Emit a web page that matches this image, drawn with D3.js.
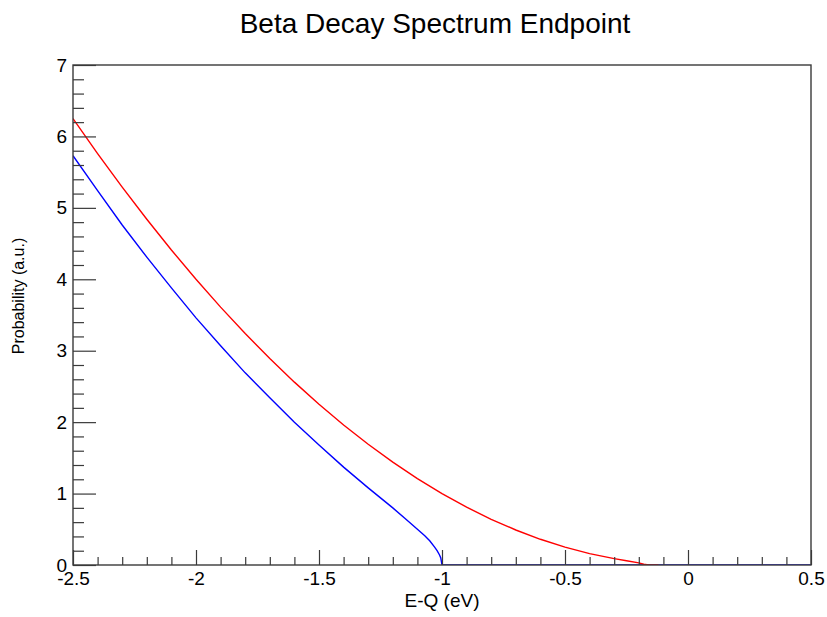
<!DOCTYPE html>
<html>
<head>
<meta charset="utf-8">
<script src="https://cdn.jsdelivr.net/npm/d3@7"></script>
<style>
    body { margin: 0; background: #fff; }
    svg { display: block; font-family: "Liberation Sans", Arial, sans-serif; }
</style>
</head>
<body>
<svg id="chart" width="827" height="617"></svg>
<script>

// E-Q (eV) sample points, red curve (massless neutrino)
var redX = [-2.5, -2.4, -2.3, -2.2, -2.1, -2.0, -1.9, -1.8, -1.7, -1.6, -1.5, -1.4, -1.3,
    -1.2, -1.1, -1.0, -0.9, -0.8, -0.7, -0.6, -0.5, -0.4, -0.3, -0.25, -0.2, -0.18, -0.16, -0.12];
var redY = [6.25, 5.76, 5.29, 4.84, 4.41, 4.0, 3.61, 3.24, 2.89, 2.56, 2.25, 1.96, 1.69,
    1.44, 1.21, 1.0, 0.81, 0.64, 0.49, 0.36, 0.25, 0.16, 0.09, 0.06, 0.03, 0.01, 0.0, 0.0];

// blue curve (massive neutrino), cut off at -1 eV
var blueX = [-2.5, -2.4, -2.3, -2.2, -2.1, -2.0, -1.9, -1.8, -1.7, -1.6, -1.5, -1.4, -1.3,
    -1.2, -1.15, -1.1, -1.07, -1.05, -1.03, -1.02, -1.01, -1.005, -1.0, -0.5, 0.0, 0.5];
var blueY = [5.73, 5.24, 4.76, 4.31, 3.88, 3.46, 3.07, 2.69, 2.34, 2.0, 1.68, 1.37, 1.08,
    0.8, 0.65, 0.5, 0.41, 0.34, 0.25, 0.2, 0.14, 0.1, 0.0, 0.0, 0.0, 0.0];

var xMajorTicks = [-2.5, -2, -1.5, -1, -0.5, 0, 0.5];
var xMinorTicks = [-2.4, -2.3, -2.2, -2.1, -1.9, -1.8, -1.7, -1.6, -1.4, -1.3, -1.2, -1.1,
    -0.9, -0.8, -0.7, -0.6, -0.4, -0.3, -0.2, -0.1, 0.1, 0.2, 0.3, 0.4];
var yMajorTicks = [0, 1, 2, 3, 4, 5, 6, 7];
var yMinorTicks = [0.2, 0.4, 0.6, 0.8, 1.2, 1.4, 1.6, 1.8, 2.2, 2.4, 2.6, 2.8, 3.2, 3.4, 3.6, 3.8,
    4.2, 4.4, 4.6, 4.8, 5.2, 5.4, 5.6, 5.8, 6.2, 6.4, 6.6, 6.8];


class SpectrumGraph {

    constructor(id) {

        this.svg = d3.select("#" + id);

        // frame of the pad
        this.left = 73;
        this.right = 811;
        this.top = 65;
        this.bottom = 565;

        this.axisColor = "#3a3a3a";
        this.font = 19;

    }

    setup() {
        this.computeScales();
        this.drawCurves();
        this.drawAxes();
        this.drawLabels();
    }

    computeScales() {

        this.x = d3.scaleLinear().domain([-2.5, 0.5]).range([this.left, this.right]);
        this.y = d3.scaleLinear().domain([0, 7]).range([this.bottom, this.top]);

    }

    drawCurves() {

        var x = this.x;
        var y = this.y;

        this.svg.append("clipPath").attr("id", "frame")
            .append("rect")
            .attr("x", this.left)
            .attr("y", this.top - 2)
            .attr("width", this.right - this.left)
            .attr("height", this.bottom - this.top + 2);

        var line = d3.line().x(d => x(d[0])).y(d => y(d[1]));

        var blue = d3.zip(blueX, blueY);
        var red = d3.zip(redX, redY);

        this.svg.append("path")
            .attr("d", line(blue))
            .attr("fill", "none")
            .attr("stroke", "#0000ff")
            .attr("stroke-width", 1.4)
            .attr("clip-path", "url(#frame)");

        this.svg.append("path")
            .attr("d", line(red))
            .attr("fill", "none")
            .attr("stroke", "#ff0000")
            .attr("stroke-width", 1.4)
            .attr("clip-path", "url(#frame)");

    }

    drawAxes() {

        var fmt = d => String(d);

        // minor ticks first, no labels
        var xMinor = this.svg.append("g")
            .attr("transform", "translate(0," + this.bottom + ")")
            .call(d3.axisBottom(this.x).tickValues(xMinorTicks).tickSize(-8).tickFormat(""));

        var yMinor = this.svg.append("g")
            .attr("transform", "translate(" + this.left + ",0)")
            .call(d3.axisLeft(this.y).tickValues(yMinorTicks).tickSize(-11).tickFormat(""));

        var xAxis = this.svg.append("g")
            .attr("transform", "translate(0," + this.bottom + ")")
            .call(d3.axisBottom(this.x).tickValues(xMajorTicks).tickSizeInner(-15)
                .tickSizeOuter(0).tickPadding(7).tickFormat(fmt));

        var yAxis = this.svg.append("g")
            .attr("transform", "translate(" + this.left + ",0)")
            .call(d3.axisLeft(this.y).tickValues(yMajorTicks).tickSizeInner(-23)
                .tickSizeOuter(0).tickPadding(6).tickFormat(fmt));

        var groups = [xMinor, yMinor, xAxis, yAxis];
        for (var idx = 0; idx < groups.length; idx += 1) {
            groups[idx].select(".domain").remove();
            groups[idx].selectAll("line")
                .attr("stroke", this.axisColor)
                .attr("stroke-width", 1.2);
            groups[idx].selectAll("text")
                .attr("fill", "black")
                .attr("font-size", this.font)
                .attr("font-family", "Liberation Sans, Arial, sans-serif");
        }

        // box around the pad
        this.svg.append("rect")
            .attr("x", this.left)
            .attr("y", this.top)
            .attr("width", this.right - this.left)
            .attr("height", this.bottom - this.top)
            .attr("fill", "none")
            .attr("stroke", this.axisColor)
            .attr("stroke-width", 1.4);

    }

    drawLabels() {

        this.svg.append("text")
            .attr("x", 435)
            .attr("y", 33)
            .attr("text-anchor", "middle")
            .attr("font-size", 28)
            .attr("fill", "black")
            .text("Beta Decay Spectrum Endpoint");

        this.svg.append("text")
            .attr("x", (this.left + this.right) / 2)
            .attr("y", 607)
            .attr("text-anchor", "middle")
            .attr("font-size", this.font)
            .attr("fill", "black")
            .text("E-Q (eV)");

        this.svg.append("text")
            .attr("transform", "translate(24,296) rotate(-90)")
            .attr("text-anchor", "middle")
            .attr("font-size", 16)
            .attr("fill", "black")
            .text("Probability (a.u.)");

    }

}

var graph = new SpectrumGraph("chart");
graph.setup();

</script>
</body>
</html>
